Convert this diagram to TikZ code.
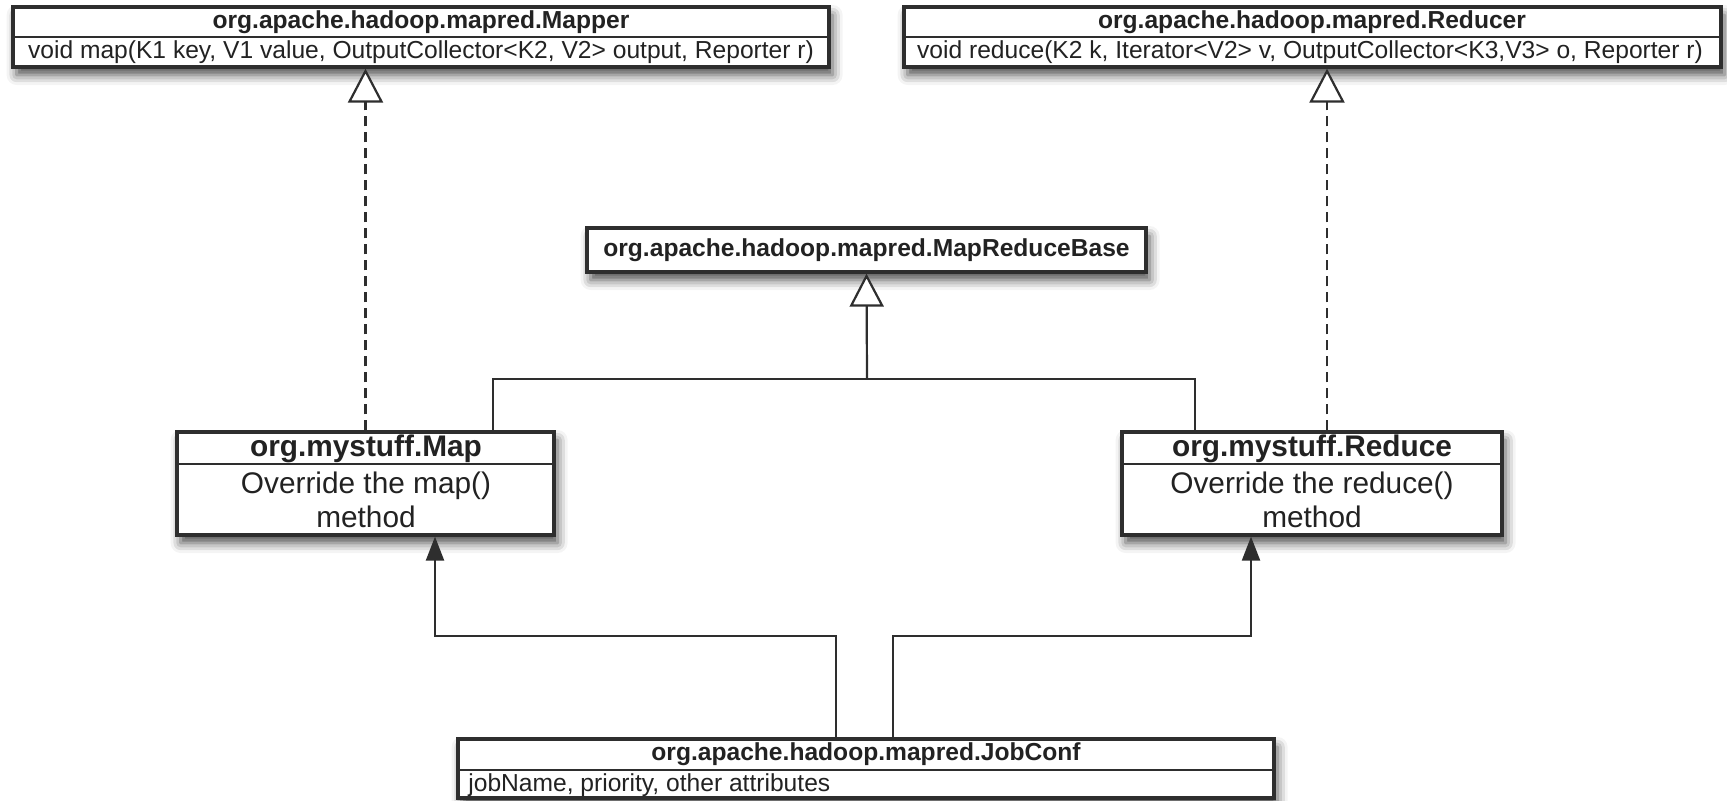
\documentclass[tikz,border=0pt]{standalone}
\usepackage{fontspec}
\setmainfont{Liberation Sans}
\usetikzlibrary{arrows.meta,shadows.blur,fit}

\definecolor{linegray}{HTML}{2E2E2E}
\definecolor{textgray}{HTML}{222222}

\begin{document}
\begin{tikzpicture}[x=0.5pt,y=-0.5pt,
  umlbox/.style={draw=linegray, line width=1.6pt, fill=white, inner sep=0pt,
    blur shadow={shadow xshift=1.8pt, shadow yshift=-4pt,
                 shadow blur radius=5pt, shadow opacity=70}},
  divline/.style={draw=linegray, line width=1.3pt},
  hdr/.style={font=\fontsize{12.3}{14}\selectfont\bfseries, text=textgray, inner sep=0pt},
  sig/.style={font=\fontsize{12.3}{14}\selectfont, text=textgray, inner sep=0pt},
  bighdr/.style={font=\fontsize{14.9}{17}\selectfont\bfseries, text=textgray, inner sep=0pt},
  bigtxt/.style={font=\fontsize{14.9}{17}\selectfont, text=textgray, inner sep=0pt, align=center},
  conn/.style={draw=linegray, line width=1.1pt},
  realize/.style={conn, dash pattern=on 5pt off 3pt,
    -{Triangle[open, length=17pt, width=17.5pt, fill=white, line width=1.1pt]}},
  inherit/.style={conn,
    -{Triangle[open, length=16.5pt, width=17pt, fill=white, line width=1.1pt]}},
  uses/.style={conn, -{Triangle[length=12pt, width=9pt]}}
]
\useasboundingbox (0,0) rectangle (1727,800);

% ---- interface Mapper ----
\coordinate (mapperA) at (13,7);
\coordinate (mapperB) at (829,67);
\node[umlbox, fit=(mapperA)(mapperB)] (mapper) {};
\coordinate (mapperdiv) at (0,37);
\draw[divline] (mapper.west |- mapperdiv) -- (mapper.east |- mapperdiv);
\node[hdr] (mappertitle) at (421,22) {org.apache.hadoop.mapred.Mapper};
\node[sig] (mappersig) at (421,52) {void map(K1 key, V1 value, OutputCollector<K2, V2> output, Reporter r)};

% ---- interface Reducer ----
\coordinate (reducerA) at (904,7);
\coordinate (reducerB) at (1721,67);
\node[umlbox, fit=(reducerA)(reducerB)] (reducer) {};
\draw[divline] (reducer.west |- mapperdiv) -- (reducer.east |- mapperdiv);
\node[hdr] (reducertitle) at (1312,22) {org.apache.hadoop.mapred.Reducer};
\node[sig] (reducersig) at (1310,52) {void reduce(K2 k, Iterator<V2> v, OutputCollector<K3,V3> o, Reporter r)};

% ---- base class ----
\coordinate (mrbA) at (587,228);
\coordinate (mrbB) at (1146,272);
\node[umlbox, fit=(mrbA)(mrbB)] (mrb) {};
\node[hdr] (mrbtitle) at (mrb.center) {org.apache.hadoop.mapred.MapReduceBase};

% ---- class Map ----
\coordinate (mapA) at (177,432);
\coordinate (mapB) at (554,535);
\node[umlbox, fit=(mapA)(mapB)] (map) {};
\coordinate (classdiv) at (0,464);
\draw[divline] (map.west |- classdiv) -- (map.east |- classdiv);
\node[bighdr] (maptitle) at (366,449) {org.mystuff.Map};
\node[bigtxt] (mapbody) at (366,500) {Override the map()\\method};

% ---- class Reduce ----
\coordinate (redA) at (1122,432);
\coordinate (redB) at (1502,535);
\node[umlbox, fit=(redA)(redB)] (reduce) {};
\draw[divline] (reduce.west |- classdiv) -- (reduce.east |- classdiv);
\node[bighdr] (redtitle) at (1312,449) {org.mystuff.Reduce};
\node[bigtxt] (redbody) at (1312,500) {Override the reduce()\\method};

% ---- JobConf ----
\coordinate (jcA) at (458,739);
\coordinate (jcB) at (1274,798);
\node[umlbox, fit=(jcA)(jcB)] (jobconf) {};
\coordinate (jcdiv) at (0,770);
\draw[divline] (jobconf.west |- jcdiv) -- (jobconf.east |- jcdiv);
\node[hdr] (jctitle) at (866,754) {org.apache.hadoop.mapred.JobConf};
\node[sig, anchor=west] (jcattr) at (468,785) {jobName, priority, other attributes};

% ---- realization of the interfaces ----
\coordinate (redreal) at (1327,0);
\draw[realize] (map.north) -- (map.north |- mapper.south);
\draw[realize] (redreal |- reduce.north) -- (redreal |- reducer.south);

% ---- inheritance from MapReduceBase ----
\coordinate (mrbjoin) at (867,379);
\coordinate (mapgen) at (493,379);
\coordinate (redgen) at (1195,379);
\draw[conn] (mapgen |- map.north) |- (mrbjoin) -| (redgen |- reduce.north);
\draw[inherit] (mrbjoin) -- (mrb.south);

% ---- JobConf dependencies ----
\coordinate (jcl) at (836,0);
\coordinate (jcr) at (893,0);
\coordinate (mapbend) at (435,636);
\coordinate (redbend) at (1251,636);
\draw[uses] (jcl |- jobconf.north) |- (mapbend) -- (mapbend |- map.south);
\draw[uses] (jcr |- jobconf.north) |- (redbend) -- (redbend |- reduce.south);
\end{tikzpicture}
\end{document}
